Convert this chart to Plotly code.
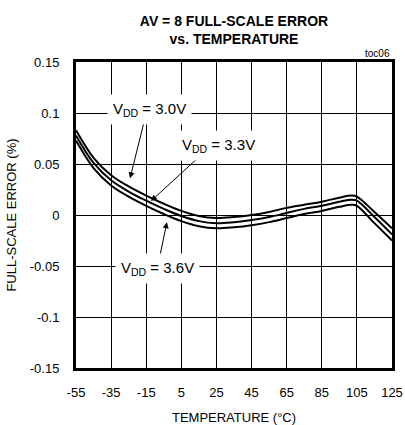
import plotly.graph_objects as go

temps = [-55, -45, -35, -25, -15, -5, 5, 15, 25, 35, 45, 55, 65, 75, 85, 95, 102, 105, 115, 125]
vdd30 = [0.083, 0.056, 0.039, 0.028, 0.019, 0.011, 0.004, -0.001, -0.003, -0.002, 0.000, 0.003, 0.007, 0.010, 0.013, 0.017, 0.019, 0.018, 0.003, -0.013]
vdd33 = [0.078, 0.051, 0.034, 0.023, 0.014, 0.006, -0.001, -0.006, -0.008, -0.007, -0.005, -0.002, 0.002, 0.006, 0.009, 0.013, 0.015, 0.014, -0.002, -0.019]
vdd36 = [0.073, 0.046, 0.029, 0.018, 0.009, 0.001, -0.006, -0.011, -0.013, -0.012, -0.010, -0.007, -0.003, 0.001, 0.004, 0.008, 0.010, 0.009, -0.008, -0.025]

xticks = [-55, -35, -15, 5, 25, 45, 65, 85, 105, 125]
yticks = [-0.15, -0.1, -0.05, 0, 0.05, 0.1, 0.15]
ytick_labels = ["-0.15", "-0.1", "-0.05", "0", "0.05", "0.1", "0.15"]

FONT = "Liberation Sans, Arial, sans-serif"

fig = go.Figure()
for name, ys in [("3.0V", vdd30), ("3.3V", vdd33), ("3.6V", vdd36)]:
    fig.add_trace(go.Scatter(x=temps, y=ys, mode="lines", name=name,
                             line=dict(color="black", width=2, shape="spline", smoothing=1.0),
                             showlegend=False))

fig.update_layout(
    width=405, height=425,
    margin=dict(l=76, r=13, t=62, b=57),
    paper_bgcolor="white", plot_bgcolor="white",
    font=dict(family=FONT, size=13, color="black"),
    title=dict(text="<b>AV = 8 FULL-SCALE ERROR<br>vs. TEMPERATURE</b>",
               x=0.5, xref="paper", xanchor="center", y=0.94, yanchor="top",
               font=dict(family=FONT, size=14, color="black")),
    xaxis=dict(range=[-55, 125], tickvals=xticks, ticktext=[str(t) for t in xticks],
               showgrid=True, gridcolor="black", gridwidth=1, zeroline=False,
               showline=True, linecolor="black", linewidth=3, mirror=True,
               ticks="outside", ticklen=10, tickcolor="rgba(0,0,0,0)", automargin=False,
               title=dict(text="TEMPERATURE (°C)", standoff=19, font=dict(size=13)),
               tickfont=dict(size=13)),
    yaxis=dict(range=[-0.15, 0.15], tickvals=yticks, ticktext=ytick_labels,
               showgrid=True, gridcolor="black", gridwidth=1, zeroline=False,
               showline=True, linecolor="black", linewidth=3, mirror=True,
               ticks="outside", ticklen=11, tickcolor="rgba(0,0,0,0)", automargin=False,
               title=dict(text="FULL-SCALE ERROR (%)", standoff=11, font=dict(size=13)),
               tickfont=dict(size=13)),
)

# arrows
arrows = [((-24.2, 0.036), (-15.7, 0.095)),
          ((-12.3, 0.0137), (14.5, 0.056)),
          ((-3.2, -0.007), (-7.2, -0.040))]
for (hx, hy), (tx, ty) in arrows:
    fig.add_annotation(x=hx, y=hy, ax=tx, ay=ty, xref="x", yref="y", axref="x", ayref="y",
                       text="", showarrow=True, arrowhead=2, arrowsize=1.2, arrowwidth=1,
                       arrowcolor="black")

labels = [("V<sub>DD</sub> = 3.0V", -13.4, 0.103),
          ("V<sub>DD</sub> = 3.3V", 25.9, 0.0686),
          ("V<sub>DD</sub> = 3.6V", -8.3, -0.052)]
for txt, lx, ly in labels:
    fig.add_annotation(x=lx, y=ly, xref="x", yref="y", text=txt, showarrow=False,
                       bgcolor="white", borderpad=5, font=dict(size=15, family=FONT))

fig.add_annotation(x=1, y=1, xref="paper", yref="paper", xanchor="right", yanchor="bottom",
                   text="toc06", showarrow=False, font=dict(size=10, family=FONT), yshift=1)

fig.write_html("out.html", config={"displayModeBar": False},
               post_script="document.body.style.margin='0';document.body.style.padding='0';")
